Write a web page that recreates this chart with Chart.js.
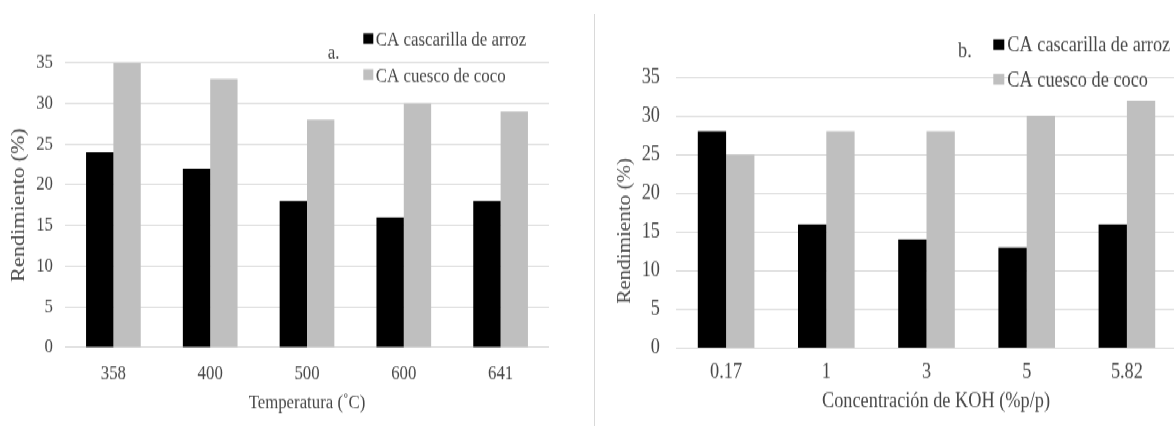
<!DOCTYPE html>
<html>
<head>
<meta charset="utf-8">
<script src="https://cdn.jsdelivr.net/npm/chart.js@4.4.1/dist/chart.umd.min.js"></script>
<style>
  html, body { margin: 0; padding: 0; background: #fff; overflow: hidden; width: 1174px; height: 426px; }
  /* the figure is drawn at 364px high and stretched to 426px, giving the tall serif lettering */
  #stage { position: absolute; left: 0; top: 0; width: 1174px; height: 364px;
           transform: scaleY(1.1703); transform-origin: 0 0; overflow: hidden; }
  .panel { position: absolute; top: 0; height: 364px; }
  #panelA { left: 0; width: 590px; }
  #panelB { left: 596px; width: 600px; }
  #divider { position: absolute; left: 594px; top: 14px; width: 1px; height: 412px; background: #d9d9d9; }
</style>
</head>
<body>
<div id="stage">
  <div class="panel" id="panelA"><canvas id="chartA"></canvas></div>
  <div class="panel" id="panelB"><canvas id="chartB"></canvas></div>
</div>
<div id="divider"></div>
<script>
// Series and categories
const seriesNames = ['CA cascarilla de arroz', 'CA cuesco de coco'];
const temperatures = ['358', '400', '500', '600', '641'];
const riceByTemperature = [24, 22, 18, 16, 18];
const cocoByTemperature = [35, 33, 28, 30, 29];
const kohLevels = ['0.17', '1', '3', '5', '5.82'];
const riceByKoh = [28, 16, 14, 13, 16];
const cocoByKoh = [25, 28, 28, 30, 32];
const yAxisMax = 35;
const yAxisStep = 5;
const yAxisTitle = 'Rendimiento (%)';
const xTitleTemperature = 'Temperatura (˚C)';
const xTitleKoh = 'Concentración de KOH (%p/p)';

const FAMILY = '"Liberation Serif", "Times New Roman", serif';
const TEXT = '#474747';
const COLORS = ['#000000', '#bfbfbf'];
const H = 364;

// Legend drawn inside the plot, plus the panel tag (a. / b.)
const legendMarks = {
  id: 'legendMarks',
  afterDraw(chart, args, o) {
    const ctx = chart.ctx;
    ctx.save();
    ctx.font = o.size + 'px ' + FAMILY;
    ctx.textAlign = 'left';
    ctx.textBaseline = 'alphabetic';
    ctx.fillStyle = TEXT;
    ctx.fillText(o.tag, o.tagX, o.tagY);
    chart.data.datasets.forEach((ds, i) => {
      const r = o.rows[i];
      ctx.fillStyle = ds.backgroundColor;
      ctx.fillRect(o.boxX, r.boxTop, o.boxW, r.boxH);
      ctx.fillStyle = TEXT;
      ctx.fillText(ds.label, o.textX, r.base);
    });
    ctx.restore();
  }
};

// Nudge an axis title off its default centred spot
function shiftTitle(dx, dy) {
  return scale => {
    if (scale._titleShifted || (!dx && !dy)) return;
    const draw = scale.drawTitle;
    scale.drawTitle = function () {
      const ctx = this.ctx;
      ctx.save();
      ctx.translate(dx, dy);
      draw.apply(this, arguments);
      ctx.restore();
    };
    scale._titleShifted = true;
  };
}

function buildChart(id, labels, rice, coco, xTitle, g) {
  const font = { family: FAMILY, size: g.font };
  return new Chart(document.getElementById(id), {
    type: 'bar',
    data: {
      labels: labels,
      datasets: [
        { label: seriesNames[0], data: rice, backgroundColor: COLORS[0] },
        { label: seriesNames[1], data: coco, backgroundColor: COLORS[1] }
      ]
    },
    options: {
      responsive: true,
      maintainAspectRatio: false,
      animation: false,
      devicePixelRatio: 1,
      layout: { padding: { left: 0, top: g.top, right: g.width - g.right, bottom: 0 } },
      datasets: { bar: { categoryPercentage: 0.565, barPercentage: 1, borderWidth: 0 } },
      plugins: {
        legend: { display: false },
        tooltip: { enabled: false },
        legendMarks: g.legend
      },
      scales: {
        x: {
          grid: { display: false, drawTicks: false },
          border: { display: false },
          ticks: { color: TEXT, font: font, padding: g.xTickPad, maxRotation: 0, autoSkip: false },
          title: { display: true, text: xTitle, color: TEXT, font: font, padding: { top: 0, bottom: g.xTitlePad } },
          afterFit: s => { s.height = H - g.bottom; },
          afterUpdate: shiftTitle(g.xTitleDx, 0)
        },
        y: {
          min: 0,
          max: yAxisMax,
          grid: { color: '#d9d9d9', lineWidth: 1, drawTicks: false },
          border: { display: false },
          ticks: { stepSize: yAxisStep, color: TEXT, font: font, padding: g.yTickPad },
          title: { display: true, text: yAxisTitle, color: TEXT, font: { family: FAMILY, size: g.yTitleFont },
                   padding: { top: g.yTitlePad, bottom: 0 } },
          afterFit: s => { s.width = g.left; },
          afterUpdate: shiftTitle(0, g.yTitleDy)
        }
      }
    },
    plugins: [legendMarks]
  });
}

buildChart('chartA', temperatures, riceByTemperature, cocoByTemperature, xTitleTemperature, {
  width: 590, left: 65, right: 549, top: 53.6, bottom: 296.9,
  font: 16.8, yTitleFont: 19,
  xTickPad: 12.6, xTitlePad: 9.5, yTickPad: 12, yTitlePad: 7.6,
  xTitleDx: 0, yTitleDy: 0,
  legend: {
    size: 16.9, tag: 'a.', tagX: 327.7, tagY: 49.6,
    boxX: 363.3, boxW: 10, textX: 375.7,
    rows: [ { boxTop: 28.5, boxH: 9.1, base: 39.0 }, { boxTop: 59.2, boxH: 9.1, base: 70.3 } ]
  }
});

buildChart('chartB', kohLevels, riceByKoh, cocoByKoh, xTitleKoh, {
  width: 600, left: 80, right: 581, top: 66.05, bottom: 297.4,
  font: 18.3, yTitleFont: 18,
  xTickPad: 9.9, xTitlePad: 9.5, yTickPad: 16, yTitlePad: 18.2,
  xTitleDx: 9.5, yTitleDy: 15.5,
  legend: {
    size: 18.3, tag: 'b.', tagX: 362, tagY: 48.5,
    boxX: 397.3, boxW: 11, textX: 411.3,
    rows: [ { boxTop: 33.6, boxH: 9.1, base: 43.6 }, { boxTop: 63.2, boxH: 9.2, base: 73.5 } ]
  }
});
</script>
</body>
</html>
